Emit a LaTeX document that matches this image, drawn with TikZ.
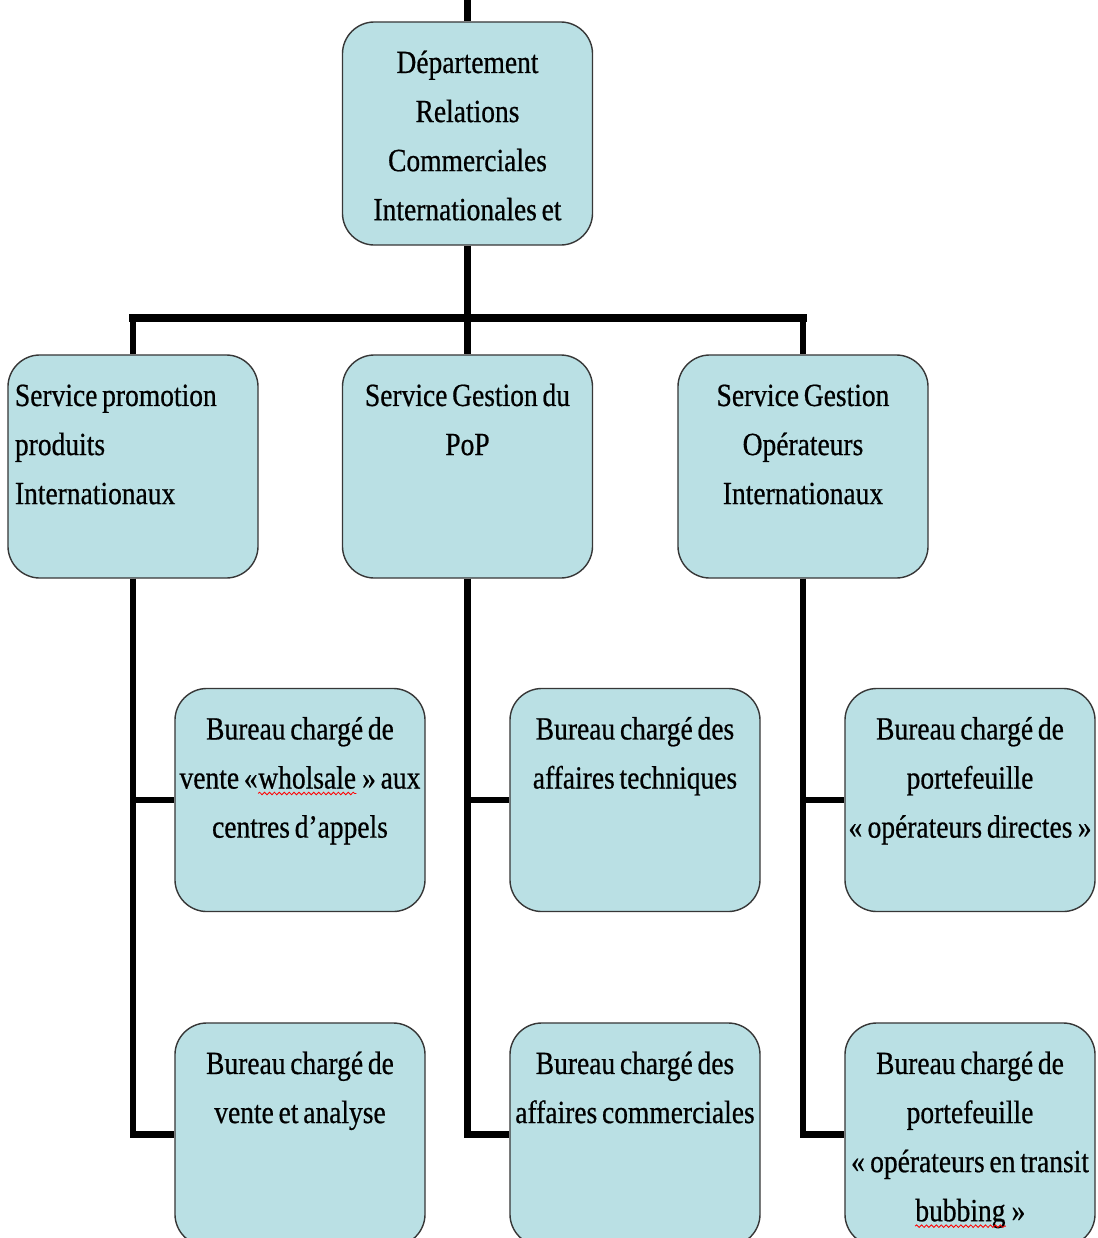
\documentclass[tikz,border=0pt]{standalone}
\usepackage{fontspec}
\setmainfont{Liberation Serif}[FakeStretch=0.85, FakeBold=0.6, WordSpace=0.7]
\usetikzlibrary{decorations.pathmorphing}
\definecolor{boxfill}{RGB}{186,224,228}
\definecolor{boxline}{RGB}{55,55,55}
\newcommand\spellwave[1]{\tikz[baseline=(w.base)]{%
  \node[draw=none, fill=none, rounded corners=0pt, inner sep=0pt, text height=, text depth=,
    text width=, minimum width=0pt, minimum height=0pt, align=none] (w) {#1};
  \draw[red, line width=0.6pt, rounded corners=0pt, decorate,
    decoration={snake, amplitude=0.9pt, segment length=3.5pt}]
    ([yshift=-3.5pt]w.base west) -- ([yshift=-3.5pt]w.base east);}}

\begin{document}
\begin{tikzpicture}[x=0.025cm, y=-0.025cm,
    unit/.style ={rectangle, rounded corners=0.8cm, draw=boxline, line width=1pt, fill=boxfill,
      minimum width=6.25cm, text width=6.1cm, inner xsep=0.075cm, inner ysep=0pt,
      text height=1.275cm, text depth=4.3cm, align=flush center,
      font=\fontsize{23}{34.9}\selectfont},
    link/.style ={line width=0.16cm},
    bar/.style ={line width=0.21cm, line cap=rect}]
   \useasboundingbox (0,0) rectangle (1098,1238);
   \clip (0,0) rectangle (1098,1238);
   \node[unit] (dep) at (467.5,133.5) {Département\\ Relations\\ Commerciales\\ Internationales et};
   \node[unit, align=flush left, text width=5.9cm, inner xsep=0.175cm] (promo) at (133,466.5) {Service promotion\\ produits\\ Internationaux};
   \node[unit] (pop) at (467.5,466.5) {Service Gestion du\\ PoP};
   \node[unit] (oper) at (803,466.5) {Service Gestion\\ Opérateurs\\ Internationaux};
   \node[unit] (wholesale) at (300,800) {Bureau chargé de\\ vente «\spellwave{wholsale}\,» aux\\ centres d’appels};
   \node[unit] (analyse) at (300,1134.5) {Bureau chargé de\\ vente et analyse};
   \node[unit] (tech) at (635,800) {Bureau chargé des\\ affaires techniques};
   \node[unit] (comm) at (635,1134.5) {Bureau chargé des\\ affaires commerciales};
   \node[unit] (direct) at (970,800) {Bureau chargé de\\ portefeuille\\ «\,opérateurs directes\,»};
   \node[unit] (transit) at (970,1134.5) {Bureau chargé de\\ portefeuille\\ «\,opérateurs en transit\\ \spellwave{bubbing}\,»};
   \coordinate (entry) at (467.5,0);
   \coordinate (fork) at (467.5,318);
   \draw[link] (entry) to (dep);
   \draw[link] (dep) to (fork);
   \draw[bar] (promo.north |- fork) to (oper.north |- fork);
   \foreach \s in {promo,pop,oper}
     \draw[link] (\s.north |- fork) to (\s.north);
   \draw[link] (promo) |- (wholesale);
   \draw[link] (promo) |- (analyse);
   \draw[link] (pop) |- (tech);
   \draw[link] (pop) |- (comm);
   \draw[link] (oper) |- (direct);
   \draw[link] (oper) |- (transit);
 \end{tikzpicture}
\end{document}
